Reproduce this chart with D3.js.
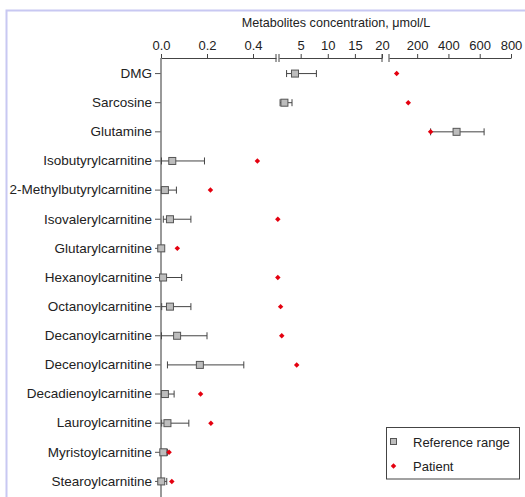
<!DOCTYPE html>
<html>
<head>
<meta charset="utf-8">
<script src="https://cdn.jsdelivr.net/npm/d3@7"></script>
<style>
  body { margin: 0; background: #fff; }
  svg { display: block; font-family: "Liberation Sans", Arial, sans-serif; }
</style>
</head>
<body>
<svg id="chart" width="525" height="497"></svg>
<script>
const categories = [
  "DMG", "Sarcosine", "Glutamine", "Isobutyrylcarnitine", "2-Methylbutyrylcarnitine",
  "Isovalerylcarnitine", "Glutarylcarnitine", "Hexanoylcarnitine", "Octanoylcarnitine",
  "Decanoylcarnitine", "Decenoylcarnitine", "Decadienoylcarnitine", "Lauroylcarnitine",
  "Myristoylcarnitine", "Stearoylcarnitine"
];
// reference range: low whisker, box (median), high whisker
const refLow  = [2.4, 1.2, 286, 0.002, 0.003, 0.01, 0.001, 0.002, 0.003, 0.002, 0.028, 0.003, 0.003, 0.003, 0.001];
const refMid  = [3.95, 2.0, 452, 0.049, 0.017, 0.039, 0.001, 0.009, 0.039, 0.07, 0.169, 0.017, 0.028, 0.01, 0.001];
const refHigh = [7.9, 3.4, 628, 0.189, 0.067, 0.13, 0.01, 0.09, 0.13, 0.2, 0.36, 0.057, 0.121, 0.028, 0.025];
const patient = [69, 143, 286, 0.419, 0.215, 0.508, 0.071, 0.508, 0.52, 0.525, 0.59, 0.172, 0.217, 0.035, 0.047];

// broken x axis: three pieces
const ticks1 = [0.0, 0.2, 0.4];
const ticks2 = [5, 10, 15, 20];
const ticks3 = [200, 400, 600, 800];

const svg = d3.select("#chart");
const axisY = 58;
const FONT = "'Liberation Sans', Arial, sans-serif";

const x1 = d3.scaleLinear().domain([0, 0.5]).range([161, 276]);
const x2 = d3.scaleLinear().domain([1, 20]).range([279, 382]);
const x3 = d3.scaleLinear().domain([20, 800]).range([389, 511]);

// pick the piece by value
function xPos(v) {
  if (v > 20) return x3(v);
  if (v > 0.65) return x2(v);
  return x1(v);
}

const y = d3.scaleBand().domain(categories).range([59, 496]);
const yc = d => y(d) + y.bandwidth() / 2;

// frame
svg.append("path")
  .attr("d", "M6.5,497 V10.5 H525")
  .attr("fill", "none")
  .attr("stroke", "#c8c8f2")
  .attr("stroke-width", 2);

// title
svg.append("text")
  .attr("x", 336)
  .attr("y", 27)
  .attr("text-anchor", "middle")
  .style("font-size", "12.6px")
  .attr("fill", "#222")
  .text("Metabolites concentration, \u03bcmol/L");

/* ========== TOP AXIS ========== */
[[x1, ticks1, d3.format(".1f")], [x2, ticks2, d3.format("d")], [x3, ticks3, d3.format("d")]]
  .forEach(([sc, tv, fmt]) => {
    const g = svg.append("g")
      .attr("transform", "translate(0," + axisY + ")")
      .call(d3.axisTop(sc).tickValues(tv).tickFormat(fmt).tickSize(4).tickSizeOuter(0).tickPadding(4));
    g.attr("font-family", FONT).attr("font-size", 13);
    g.selectAll("path, line").attr("stroke", "#444");
    g.selectAll("text").attr("fill", "#222");
  });

// break caps
const caps = [x1.range()[1], x2.range()[0], x2.range()[1], x3.range()[0]];
svg.selectAll("line.cap").data(caps).join("line")
  .attr("class", "cap")
  .attr("x1", d => d).attr("x2", d => d)
  .attr("y1", axisY - 4).attr("y2", axisY + 4)
  .attr("stroke", "#444");

/* ========== LEFT AXIS ========== */
const gy = svg.append("g")
  .attr("transform", "translate(161,0)")
  .call(d3.axisLeft(y).tickSize(6).tickSizeOuter(0).tickPadding(3));
gy.attr("font-family", FONT).attr("font-size", 13.5);
gy.select(".domain").remove();
gy.selectAll("line").attr("stroke", "#555");
gy.selectAll("text").attr("fill", "#222");

svg.append("line")
  .attr("x1", 161).attr("x2", 161)
  .attr("y1", axisY).attr("y2", 497)
  .attr("stroke", "#777")
  .attr("stroke-width", 1.5);

/* ========== REFERENCE RANGES ========== */
const rows = categories.map((c, i) => ({ c, lo: refLow[i], mid: refMid[i], hi: refHigh[i], p: patient[i] }));

const rg = svg.append("g").attr("stroke", "#444").attr("stroke-width", 1);
rg.selectAll("line.whisk").data(rows).join("line")
  .attr("class", "whisk")
  .attr("x1", d => xPos(d.lo)).attr("x2", d => xPos(d.hi))
  .attr("y1", d => yc(d.c)).attr("y2", d => yc(d.c));
rg.selectAll("line.lo").data(rows).join("line")
  .attr("class", "lo")
  .attr("x1", d => xPos(d.lo)).attr("x2", d => xPos(d.lo))
  .attr("y1", d => yc(d.c) - 3.5).attr("y2", d => yc(d.c) + 3.5);
rg.selectAll("line.hi").data(rows).join("line")
  .attr("class", "hi")
  .attr("x1", d => xPos(d.hi)).attr("x2", d => xPos(d.hi))
  .attr("y1", d => yc(d.c) - 3.5).attr("y2", d => yc(d.c) + 3.5);
rg.selectAll("rect").data(rows).join("rect")
  .attr("x", d => xPos(d.mid) - 3.5)
  .attr("y", d => yc(d.c) - 3.5)
  .attr("width", 7).attr("height", 7)
  .attr("fill", "#bdbdbd")
  .attr("stroke", "#555");

/* ========== PATIENT ========== */
const diamond = d3.symbol().type(d3.symbolSquare).size(15);
svg.selectAll("path.pt").data(rows).join("path")
  .attr("class", "pt")
  .attr("d", diamond)
  .attr("transform", d => "translate(" + xPos(d.p) + "," + yc(d.c) + ") rotate(45)")
  .attr("fill", "#e4000f");

/* ========== LEGEND ========== */
const lg = svg.append("g");
lg.append("rect")
  .attr("x", 386.5).attr("y", 427.5)
  .attr("width", 133).attr("height", 51.5)
  .attr("fill", "#fff")
  .attr("stroke", "#444");
lg.append("rect")
  .attr("x", 390.5).attr("y", 438.5)
  .attr("width", 6).attr("height", 6)
  .attr("fill", "#bdbdbd")
  .attr("stroke", "#555");
lg.append("path")
  .attr("d", diamond)
  .attr("transform", "translate(393.5,466) rotate(45)")
  .attr("fill", "#e4000f");
lg.selectAll("text").data(["Reference range", "Patient"]).join("text")
  .attr("x", 413)
  .attr("y", (d, i) => 446.5 + 24.5 * i)
  .style("font-size", "13px")
  .attr("fill", "#222")
  .text(d => d);
</script>
</body>
</html>
